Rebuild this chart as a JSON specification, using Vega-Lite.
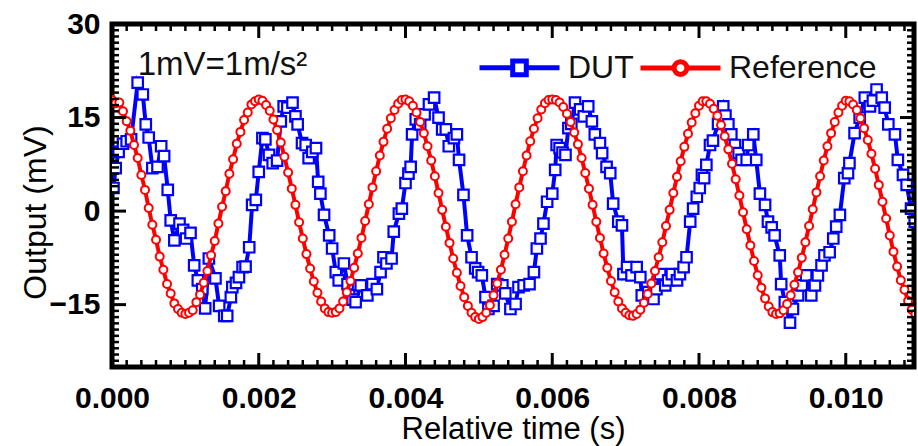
{
"$schema": "https://vega.github.io/schema/vega-lite/v6.json",
"width": 802, "height": 343,
"autosize": {"type": "none"},
"padding": {"left": 112, "top": 24, "right": 4, "bottom": 79},
"background": "white",
"config": {"view": {"stroke": "black", "strokeWidth": 5}, "font": "Liberation Sans"},
"datasets": {
"xmaj": [{"t":0,"b":-25,"tp":30},{"t":0.002,"b":-25,"tp":30},{"t":0.004,"b":-25,"tp":30},{"t":0.006,"b":-25,"tp":30},{"t":0.008,"b":-25,"tp":30},{"t":0.01,"b":-25,"tp":30}],
"xmin": [{"t":0.0002,"b":-25,"tp":30},{"t":0.0004,"b":-25,"tp":30},{"t":0.0006,"b":-25,"tp":30},{"t":0.0008,"b":-25,"tp":30},{"t":0.001,"b":-25,"tp":30},{"t":0.0012,"b":-25,"tp":30},{"t":0.0014,"b":-25,"tp":30},{"t":0.0016,"b":-25,"tp":30},{"t":0.0018,"b":-25,"tp":30},{"t":0.0022,"b":-25,"tp":30},{"t":0.0024,"b":-25,"tp":30},{"t":0.0026,"b":-25,"tp":30},{"t":0.0028,"b":-25,"tp":30},{"t":0.003,"b":-25,"tp":30},{"t":0.0032,"b":-25,"tp":30},{"t":0.0034,"b":-25,"tp":30},{"t":0.0036,"b":-25,"tp":30},{"t":0.0038,"b":-25,"tp":30},{"t":0.0042,"b":-25,"tp":30},{"t":0.0044,"b":-25,"tp":30},{"t":0.0046,"b":-25,"tp":30},{"t":0.0048,"b":-25,"tp":30},{"t":0.005,"b":-25,"tp":30},{"t":0.0052,"b":-25,"tp":30},{"t":0.0054,"b":-25,"tp":30},{"t":0.0056,"b":-25,"tp":30},{"t":0.0058,"b":-25,"tp":30},{"t":0.0062,"b":-25,"tp":30},{"t":0.0064,"b":-25,"tp":30},{"t":0.0066,"b":-25,"tp":30},{"t":0.0068,"b":-25,"tp":30},{"t":0.007,"b":-25,"tp":30},{"t":0.0072,"b":-25,"tp":30},{"t":0.0074,"b":-25,"tp":30},{"t":0.0076,"b":-25,"tp":30},{"t":0.0078,"b":-25,"tp":30},{"t":0.0082,"b":-25,"tp":30},{"t":0.0084,"b":-25,"tp":30},{"t":0.0086,"b":-25,"tp":30},{"t":0.0088,"b":-25,"tp":30},{"t":0.009,"b":-25,"tp":30},{"t":0.0092,"b":-25,"tp":30},{"t":0.0094,"b":-25,"tp":30},{"t":0.0096,"b":-25,"tp":30},{"t":0.0098,"b":-25,"tp":30},{"t":0.0102,"b":-25,"tp":30},{"t":0.0104,"b":-25,"tp":30},{"t":0.0106,"b":-25,"tp":30},{"t":0.0108,"b":-25,"tp":30}],
"ymaj": [{"v":-15,"l":0,"r":0.01093},{"v":0,"l":0,"r":0.01093},{"v":15,"l":0,"r":0.01093}],
"ymin": [{"v":-24,"l":0,"r":0.01093},{"v":-23,"l":0,"r":0.01093},{"v":-22,"l":0,"r":0.01093},{"v":-21,"l":0,"r":0.01093},{"v":-20,"l":0,"r":0.01093},{"v":-19,"l":0,"r":0.01093},{"v":-18,"l":0,"r":0.01093},{"v":-17,"l":0,"r":0.01093},{"v":-16,"l":0,"r":0.01093},{"v":-14,"l":0,"r":0.01093},{"v":-13,"l":0,"r":0.01093},{"v":-12,"l":0,"r":0.01093},{"v":-11,"l":0,"r":0.01093},{"v":-10,"l":0,"r":0.01093},{"v":-9,"l":0,"r":0.01093},{"v":-8,"l":0,"r":0.01093},{"v":-7,"l":0,"r":0.01093},{"v":-6,"l":0,"r":0.01093},{"v":-5,"l":0,"r":0.01093},{"v":-4,"l":0,"r":0.01093},{"v":-3,"l":0,"r":0.01093},{"v":-2,"l":0,"r":0.01093},{"v":-1,"l":0,"r":0.01093},{"v":1,"l":0,"r":0.01093},{"v":2,"l":0,"r":0.01093},{"v":3,"l":0,"r":0.01093},{"v":4,"l":0,"r":0.01093},{"v":5,"l":0,"r":0.01093},{"v":6,"l":0,"r":0.01093},{"v":7,"l":0,"r":0.01093},{"v":8,"l":0,"r":0.01093},{"v":9,"l":0,"r":0.01093},{"v":10,"l":0,"r":0.01093},{"v":11,"l":0,"r":0.01093},{"v":12,"l":0,"r":0.01093},{"v":13,"l":0,"r":0.01093},{"v":14,"l":0,"r":0.01093},{"v":16,"l":0,"r":0.01093},{"v":17,"l":0,"r":0.01093},{"v":18,"l":0,"r":0.01093},{"v":19,"l":0,"r":0.01093},{"v":20,"l":0,"r":0.01093},{"v":21,"l":0,"r":0.01093},{"v":22,"l":0,"r":0.01093},{"v":23,"l":0,"r":0.01093},{"v":24,"l":0,"r":0.01093},{"v":25,"l":0,"r":0.01093},{"v":26,"l":0,"r":0.01093},{"v":27,"l":0,"r":0.01093},{"v":28,"l":0,"r":0.01093},{"v":29,"l":0,"r":0.01093}],
"dut": [
{"s":"DUT","t":0.00002,"v":3.7},{"s":"DUT","t":0.00005,"v":6.9},{"s":"DUT","t":0.00009,"v":9.5},{"s":"DUT","t":0.00015,"v":10.8},{"s":"DUT","t":0.0002,"v":11.2},{"s":"DUT","t":0.00026,"v":11.5},{"s":"DUT","t":0.00035,"v":20.6},{"s":"DUT","t":0.00042,"v":18.7},{"s":"DUT","t":0.00046,"v":13.9},{"s":"DUT","t":0.0005,"v":11.8},{"s":"DUT","t":0.00055,"v":6.9},{"s":"DUT","t":0.00062,"v":7.1},{"s":"DUT","t":0.00067,"v":10.4},{"s":"DUT","t":0.00071,"v":8.8},{"s":"DUT","t":0.00076,"v":3.4},{"s":"DUT","t":0.0008,"v":-1.5},{"s":"DUT","t":0.00085,"v":-4.7},{"s":"DUT","t":0.00092,"v":-2.0},{"s":"DUT","t":0.00097,"v":-3.0},{"s":"DUT","t":0.00101,"v":-4.4},{"s":"DUT","t":0.00107,"v":-3.5},{"s":"DUT","t":0.00112,"v":-8.7},{"s":"DUT","t":0.00117,"v":-11.1},{"s":"DUT","t":0.00123,"v":-12.5},{"s":"DUT","t":0.00127,"v":-15.6},{"s":"DUT","t":0.00132,"v":-7.6},{"s":"DUT","t":0.00141,"v":-10.8},{"s":"DUT","t":0.00146,"v":-15.2},{"s":"DUT","t":0.00153,"v":-16.8},{"s":"DUT","t":0.00157,"v":-16.8},{"s":"DUT","t":0.00162,"v":-13.8},{"s":"DUT","t":0.00164,"v":-12.2},{"s":"DUT","t":0.00169,"v":-11.5},{"s":"DUT","t":0.00173,"v":-10.6},{"s":"DUT","t":0.00178,"v":-9.0},{"s":"DUT","t":0.00182,"v":-8.9},{"s":"DUT","t":0.00187,"v":-5.8},{"s":"DUT","t":0.00191,"v":1.0},{"s":"DUT","t":0.00196,"v":1.8},{"s":"DUT","t":0.002,"v":6.3},{"s":"DUT","t":0.00205,"v":11.7},{"s":"DUT","t":0.00209,"v":11.5},{"s":"DUT","t":0.00214,"v":9.0},{"s":"DUT","t":0.00219,"v":7.7},{"s":"DUT","t":0.00225,"v":8.1},{"s":"DUT","t":0.0023,"v":14.4},{"s":"DUT","t":0.00234,"v":16.8},{"s":"DUT","t":0.00239,"v":16.6},{"s":"DUT","t":0.00246,"v":17.4},{"s":"DUT","t":0.0025,"v":15.2},{"s":"DUT","t":0.00253,"v":13.9},{"s":"DUT","t":0.00259,"v":10.9},{"s":"DUT","t":0.00264,"v":10.6},{"s":"DUT","t":0.00268,"v":8.5},{"s":"DUT","t":0.00273,"v":9.5},{"s":"DUT","t":0.00278,"v":10.1},{"s":"DUT","t":0.00281,"v":4.7},{"s":"DUT","t":0.00284,"v":2.8},{"s":"DUT","t":0.00289,"v":-0.6},{"s":"DUT","t":0.00296,"v":-3.9},{"s":"DUT","t":0.003,"v":-6.0},{"s":"DUT","t":0.00305,"v":-9.8},{"s":"DUT","t":0.00309,"v":-11.1},{"s":"DUT","t":0.00316,"v":-8.4},{"s":"DUT","t":0.00321,"v":-11.7},{"s":"DUT","t":0.00323,"v":-13.5},{"s":"DUT","t":0.00328,"v":-14.2},{"s":"DUT","t":0.00332,"v":-14.6},{"s":"DUT","t":0.00339,"v":-11.9},{"s":"DUT","t":0.00348,"v":-13.5},{"s":"DUT","t":0.00355,"v":-11.7},{"s":"DUT","t":0.00361,"v":-12.5},{"s":"DUT","t":0.00366,"v":-9.8},{"s":"DUT","t":0.0037,"v":-7.4},{"s":"DUT","t":0.00374,"v":-8.4},{"s":"DUT","t":0.00381,"v":-7.6},{"s":"DUT","t":0.00384,"v":-3.3},{"s":"DUT","t":0.00391,"v":-0.4},{"s":"DUT","t":0.00395,"v":0.4},{"s":"DUT","t":0.004,"v":4.5},{"s":"DUT","t":0.00404,"v":6.0},{"s":"DUT","t":0.00407,"v":7.1},{"s":"DUT","t":0.00409,"v":12.3},{"s":"DUT","t":0.00414,"v":14.7},{"s":"DUT","t":0.0042,"v":13.9},{"s":"DUT","t":0.00426,"v":15.5},{"s":"DUT","t":0.00432,"v":17.1},{"s":"DUT","t":0.00439,"v":18.2},{"s":"DUT","t":0.00445,"v":15.0},{"s":"DUT","t":0.0045,"v":13.1},{"s":"DUT","t":0.00455,"v":13.1},{"s":"DUT","t":0.00459,"v":10.4},{"s":"DUT","t":0.00466,"v":11.7},{"s":"DUT","t":0.0047,"v":12.3},{"s":"DUT","t":0.00473,"v":8.2},{"s":"DUT","t":0.00479,"v":2.6},{"s":"DUT","t":0.00484,"v":-3.9},{"s":"DUT","t":0.0049,"v":-7.4},{"s":"DUT","t":0.00495,"v":-9.2},{"s":"DUT","t":0.00499,"v":-9.8},{"s":"DUT","t":0.00504,"v":-10.3},{"s":"DUT","t":0.00509,"v":-13.8},{"s":"DUT","t":0.00513,"v":-15.7},{"s":"DUT","t":0.0052,"v":-15.2},{"s":"DUT","t":0.00525,"v":-11.7},{"s":"DUT","t":0.00532,"v":-11.9},{"s":"DUT","t":0.00536,"v":-13.2},{"s":"DUT","t":0.00543,"v":-15.7},{"s":"DUT","t":0.0055,"v":-14.9},{"s":"DUT","t":0.00554,"v":-12.2},{"s":"DUT","t":0.00561,"v":-11.9},{"s":"DUT","t":0.00569,"v":-11.7},{"s":"DUT","t":0.00575,"v":-9.8},{"s":"DUT","t":0.00579,"v":-6.0},{"s":"DUT","t":0.00584,"v":-4.4},{"s":"DUT","t":0.00588,"v":-2.0},{"s":"DUT","t":0.00593,"v":1.5},{"s":"DUT","t":0.006,"v":2.8},{"s":"DUT","t":0.00604,"v":6.6},{"s":"DUT","t":0.00606,"v":10.6},{"s":"DUT","t":0.0061,"v":10.1},{"s":"DUT","t":0.00614,"v":9.4},{"s":"DUT","t":0.00618,"v":9.0},{"s":"DUT","t":0.00622,"v":13.3},{"s":"DUT","t":0.00626,"v":14.0},{"s":"DUT","t":0.00631,"v":17.4},{"s":"DUT","t":0.00638,"v":16.3},{"s":"DUT","t":0.00643,"v":15.2},{"s":"DUT","t":0.00649,"v":16.8},{"s":"DUT","t":0.00654,"v":14.4},{"s":"DUT","t":0.00658,"v":12.3},{"s":"DUT","t":0.00665,"v":10.9},{"s":"DUT","t":0.00668,"v":9.3},{"s":"DUT","t":0.00674,"v":7.1},{"s":"DUT","t":0.00679,"v":6.1},{"s":"DUT","t":0.00683,"v":1.2},{"s":"DUT","t":0.0069,"v":-1.7},{"s":"DUT","t":0.00695,"v":-2.3},{"s":"DUT","t":0.00697,"v":-10.1},{"s":"DUT","t":0.00702,"v":-9.0},{"s":"DUT","t":0.00708,"v":-10.3},{"s":"DUT","t":0.00715,"v":-9.0},{"s":"DUT","t":0.0072,"v":-10.6},{"s":"DUT","t":0.00722,"v":-13.5},{"s":"DUT","t":0.00731,"v":-13.0},{"s":"DUT","t":0.00738,"v":-14.1},{"s":"DUT","t":0.00742,"v":-12.5},{"s":"DUT","t":0.00747,"v":-10.1},{"s":"DUT","t":0.00754,"v":-11.9},{"s":"DUT","t":0.00758,"v":-11.1},{"s":"DUT","t":0.00763,"v":-10.1},{"s":"DUT","t":0.0077,"v":-11.1},{"s":"DUT","t":0.00774,"v":-10.1},{"s":"DUT","t":0.00779,"v":-9.0},{"s":"DUT","t":0.00783,"v":-7.4},{"s":"DUT","t":0.00788,"v":-1.7},{"s":"DUT","t":0.00792,"v":0.4},{"s":"DUT","t":0.00797,"v":2.3},{"s":"DUT","t":0.00801,"v":3.7},{"s":"DUT","t":0.00804,"v":5.8},{"s":"DUT","t":0.00807,"v":5.3},{"s":"DUT","t":0.0081,"v":7.4},{"s":"DUT","t":0.00815,"v":10.6},{"s":"DUT","t":0.00819,"v":11.3},{"s":"DUT","t":0.00826,"v":14.0},{"s":"DUT","t":0.00833,"v":16.8},{"s":"DUT","t":0.00836,"v":15.3},{"s":"DUT","t":0.0084,"v":13.9},{"s":"DUT","t":0.00844,"v":12.3},{"s":"DUT","t":0.00849,"v":10.6},{"s":"DUT","t":0.00854,"v":9.3},{"s":"DUT","t":0.00858,"v":8.2},{"s":"DUT","t":0.00865,"v":8.2},{"s":"DUT","t":0.00867,"v":10.6},{"s":"DUT","t":0.00874,"v":12.3},{"s":"DUT","t":0.00878,"v":8.2},{"s":"DUT","t":0.00883,"v":2.8},{"s":"DUT","t":0.0089,"v":1.0},{"s":"DUT","t":0.00894,"v":-1.7},{"s":"DUT","t":0.00899,"v":-2.6},{"s":"DUT","t":0.00903,"v":-3.9},{"s":"DUT","t":0.0091,"v":-7.1},{"s":"DUT","t":0.00912,"v":-11.7},{"s":"DUT","t":0.00917,"v":-14.6},{"s":"DUT","t":0.00924,"v":-17.9},{"s":"DUT","t":0.00928,"v":-15.7},{"s":"DUT","t":0.00935,"v":-13.5},{"s":"DUT","t":0.0094,"v":-11.9},{"s":"DUT","t":0.00946,"v":-10.3},{"s":"DUT","t":0.00953,"v":-13.5},{"s":"DUT","t":0.00958,"v":-11.9},{"s":"DUT","t":0.00962,"v":-10.3},{"s":"DUT","t":0.00967,"v":-8.7},{"s":"DUT","t":0.00971,"v":-7.1},{"s":"DUT","t":0.00978,"v":-6.6},{"s":"DUT","t":0.00983,"v":-4.4},{"s":"DUT","t":0.00987,"v":-2.5},{"s":"DUT","t":0.00992,"v":-0.6},{"s":"DUT","t":0.00998,"v":5.3},{"s":"DUT","t":0.01003,"v":6.1},{"s":"DUT","t":0.01005,"v":7.7},{"s":"DUT","t":0.01012,"v":12.5},{"s":"DUT","t":0.01019,"v":15.0},{"s":"DUT","t":0.01026,"v":18.2},{"s":"DUT","t":0.01033,"v":16.8},{"s":"DUT","t":0.01037,"v":17.7},{"s":"DUT","t":0.01042,"v":19.5},{"s":"DUT","t":0.01049,"v":18.2},{"s":"DUT","t":0.01053,"v":16.6},{"s":"DUT","t":0.01058,"v":13.9},{"s":"DUT","t":0.01067,"v":12.3},{"s":"DUT","t":0.01071,"v":8.2},{"s":"DUT","t":0.01078,"v":5.8},{"s":"DUT","t":0.01083,"v":4.2},{"s":"DUT","t":0.01089,"v":0.4},{"s":"DUT","t":0.01094,"v":-1.7}
],
"ref": [
{"s":"Reference","t":0,"v":17.8},{"s":"Reference","t":0.00005,"v":17.3},{"s":"Reference","t":0.0001,"v":17.4},{"s":"Reference","t":0.00015,"v":16.0},{"s":"Reference","t":0.0002,"v":14.4},{"s":"Reference","t":0.00025,"v":12.9},{"s":"Reference","t":0.0003,"v":10.6},{"s":"Reference","t":0.00035,"v":8.5},{"s":"Reference","t":0.0004,"v":5.8},{"s":"Reference","t":0.00045,"v":3.4},{"s":"Reference","t":0.0005,"v":0.5},{"s":"Reference","t":0.00055,"v":-2.2},{"s":"Reference","t":0.0006,"v":-4.6},{"s":"Reference","t":0.00065,"v":-7.3},{"s":"Reference","t":0.0007,"v":-9.4},{"s":"Reference","t":0.00075,"v":-11.7},{"s":"Reference","t":0.0008,"v":-13.2},{"s":"Reference","t":0.00085,"v":-14.8},{"s":"Reference","t":0.0009,"v":-15.7},{"s":"Reference","t":0.00095,"v":-16.3},{"s":"Reference","t":0.001,"v":-16.5},{"s":"Reference","t":0.00105,"v":-16.3},{"s":"Reference","t":0.0011,"v":-15.9},{"s":"Reference","t":0.00115,"v":-14.6},{"s":"Reference","t":0.0012,"v":-13.4},{"s":"Reference","t":0.00125,"v":-11.5},{"s":"Reference","t":0.0013,"v":-9.6},{"s":"Reference","t":0.00135,"v":-7.1},{"s":"Reference","t":0.0014,"v":-4.8},{"s":"Reference","t":0.00145,"v":-2.0},{"s":"Reference","t":0.0015,"v":0.7},{"s":"Reference","t":0.00155,"v":3.2},{"s":"Reference","t":0.0016,"v":6.0},{"s":"Reference","t":0.00165,"v":8.3},{"s":"Reference","t":0.0017,"v":10.8},{"s":"Reference","t":0.00175,"v":12.7},{"s":"Reference","t":0.0018,"v":14.6},{"s":"Reference","t":0.00185,"v":15.8},{"s":"Reference","t":0.0019,"v":17.1},{"s":"Reference","t":0.00195,"v":17.6},
{"s":"Reference","t":0.002,"v":17.9},{"s":"Reference","t":0.00205,"v":17.7},{"s":"Reference","t":0.0021,"v":17.0},{"s":"Reference","t":0.00215,"v":16.1},{"s":"Reference","t":0.0022,"v":14.7},{"s":"Reference","t":0.00225,"v":13.0},{"s":"Reference","t":0.0023,"v":11.0},{"s":"Reference","t":0.00235,"v":8.7},{"s":"Reference","t":0.0024,"v":6.2},{"s":"Reference","t":0.00245,"v":3.6},{"s":"Reference","t":0.0025,"v":1.0},{"s":"Reference","t":0.00255,"v":-1.8},{"s":"Reference","t":0.0026,"v":-4.4},{"s":"Reference","t":0.00265,"v":-6.9},{"s":"Reference","t":0.0027,"v":-9.2},{"s":"Reference","t":0.00275,"v":-11.3},{"s":"Reference","t":0.0028,"v":-13.1},{"s":"Reference","t":0.00285,"v":-14.5},{"s":"Reference","t":0.0029,"v":-15.6},{"s":"Reference","t":0.00295,"v":-16.2},{"s":"Reference","t":0.003,"v":-16.3},{"s":"Reference","t":0.00305,"v":-16.2},{"s":"Reference","t":0.0031,"v":-15.6},{"s":"Reference","t":0.00315,"v":-14.5},{"s":"Reference","t":0.0032,"v":-13.0},{"s":"Reference","t":0.00325,"v":-11.2},{"s":"Reference","t":0.0033,"v":-9.1},{"s":"Reference","t":0.00335,"v":-6.8},{"s":"Reference","t":0.0034,"v":-4.3},{"s":"Reference","t":0.00345,"v":-1.6},{"s":"Reference","t":0.0035,"v":1.1},{"s":"Reference","t":0.00355,"v":3.8},{"s":"Reference","t":0.0036,"v":6.4},{"s":"Reference","t":0.00365,"v":8.9},{"s":"Reference","t":0.0037,"v":11.1},{"s":"Reference","t":0.00375,"v":13.2},{"s":"Reference","t":0.0038,"v":14.9},{"s":"Reference","t":0.00385,"v":16.2},{"s":"Reference","t":0.0039,"v":17.2},{"s":"Reference","t":0.00395,"v":17.8},
{"s":"Reference","t":0.004,"v":17.9},{"s":"Reference","t":0.00405,"v":17.6},{"s":"Reference","t":0.0041,"v":16.9},{"s":"Reference","t":0.00415,"v":15.8},{"s":"Reference","t":0.0042,"v":14.3},{"s":"Reference","t":0.00425,"v":12.5},{"s":"Reference","t":0.0043,"v":10.4},{"s":"Reference","t":0.00435,"v":8.1},{"s":"Reference","t":0.0044,"v":5.6},{"s":"Reference","t":0.00445,"v":2.9},{"s":"Reference","t":0.0045,"v":0.2},{"s":"Reference","t":0.00455,"v":-2.5},{"s":"Reference","t":0.0046,"v":-5.1},{"s":"Reference","t":0.00465,"v":-7.6},{"s":"Reference","t":0.0047,"v":-9.9},{"s":"Reference","t":0.00475,"v":-12.0},{"s":"Reference","t":0.0048,"v":-13.8},{"s":"Reference","t":0.00485,"v":-15.2},{"s":"Reference","t":0.0049,"v":-16.3},{"s":"Reference","t":0.00495,"v":-17.0},{"s":"Reference","t":0.005,"v":-17.3},{"s":"Reference","t":0.00505,"v":-17.0},{"s":"Reference","t":0.0051,"v":-16.3},{"s":"Reference","t":0.00515,"v":-15.1},{"s":"Reference","t":0.0052,"v":-13.5},{"s":"Reference","t":0.00525,"v":-11.6},{"s":"Reference","t":0.0053,"v":-9.4},{"s":"Reference","t":0.00535,"v":-7.0},{"s":"Reference","t":0.0054,"v":-4.4},{"s":"Reference","t":0.00545,"v":-1.7},{"s":"Reference","t":0.0055,"v":1.1},{"s":"Reference","t":0.00555,"v":3.8},{"s":"Reference","t":0.0056,"v":6.4},{"s":"Reference","t":0.00565,"v":8.9},{"s":"Reference","t":0.0057,"v":11.2},{"s":"Reference","t":0.00575,"v":13.2},{"s":"Reference","t":0.0058,"v":14.9},{"s":"Reference","t":0.00585,"v":16.3},{"s":"Reference","t":0.0059,"v":17.3},{"s":"Reference","t":0.00595,"v":17.8},
{"s":"Reference","t":0.006,"v":17.9},{"s":"Reference","t":0.00605,"v":17.8},{"s":"Reference","t":0.0061,"v":17.4},{"s":"Reference","t":0.00615,"v":16.7},{"s":"Reference","t":0.0062,"v":15.6},{"s":"Reference","t":0.00625,"v":14.3},{"s":"Reference","t":0.0063,"v":12.6},{"s":"Reference","t":0.00635,"v":10.7},{"s":"Reference","t":0.0064,"v":8.5},{"s":"Reference","t":0.00645,"v":6.1},{"s":"Reference","t":0.0065,"v":3.6},{"s":"Reference","t":0.00655,"v":1.0},{"s":"Reference","t":0.0066,"v":-1.7},{"s":"Reference","t":0.00665,"v":-4.3},{"s":"Reference","t":0.0067,"v":-6.8},{"s":"Reference","t":0.00675,"v":-9.1},{"s":"Reference","t":0.0068,"v":-11.2},{"s":"Reference","t":0.00685,"v":-13.0},{"s":"Reference","t":0.0069,"v":-14.5},{"s":"Reference","t":0.00695,"v":-15.6},{"s":"Reference","t":0.007,"v":-16.3},{"s":"Reference","t":0.00705,"v":-16.7},{"s":"Reference","t":0.0071,"v":-16.8},{"s":"Reference","t":0.00715,"v":-16.5},{"s":"Reference","t":0.0072,"v":-15.8},{"s":"Reference","t":0.00725,"v":-14.7},{"s":"Reference","t":0.0073,"v":-13.3},{"s":"Reference","t":0.00735,"v":-11.6},{"s":"Reference","t":0.0074,"v":-9.6},{"s":"Reference","t":0.00745,"v":-7.4},{"s":"Reference","t":0.0075,"v":-5.0},{"s":"Reference","t":0.00755,"v":-2.4},{"s":"Reference","t":0.0076,"v":0.2},{"s":"Reference","t":0.00765,"v":2.9},{"s":"Reference","t":0.0077,"v":5.5},{"s":"Reference","t":0.00775,"v":8.0},{"s":"Reference","t":0.0078,"v":10.3},{"s":"Reference","t":0.00785,"v":12.4},{"s":"Reference","t":0.0079,"v":14.2},{"s":"Reference","t":0.00795,"v":15.7},
{"s":"Reference","t":0.008,"v":16.9},{"s":"Reference","t":0.00805,"v":17.6},{"s":"Reference","t":0.0081,"v":17.6},{"s":"Reference","t":0.00815,"v":17.2},{"s":"Reference","t":0.0082,"v":16.4},{"s":"Reference","t":0.00825,"v":15.3},{"s":"Reference","t":0.0083,"v":13.8},{"s":"Reference","t":0.00835,"v":12.0},{"s":"Reference","t":0.0084,"v":9.9},{"s":"Reference","t":0.00845,"v":7.6},{"s":"Reference","t":0.0085,"v":5.1},{"s":"Reference","t":0.00855,"v":2.5},{"s":"Reference","t":0.0086,"v":-0.2},{"s":"Reference","t":0.00865,"v":-2.9},{"s":"Reference","t":0.0087,"v":-5.5},{"s":"Reference","t":0.00875,"v":-8.0},{"s":"Reference","t":0.0088,"v":-10.3},{"s":"Reference","t":0.00885,"v":-12.3},{"s":"Reference","t":0.0089,"v":-14.0},{"s":"Reference","t":0.00895,"v":-15.3},{"s":"Reference","t":0.009,"v":-16.2},{"s":"Reference","t":0.00905,"v":-16.5},{"s":"Reference","t":0.0091,"v":-16.4},{"s":"Reference","t":0.00915,"v":-15.9},{"s":"Reference","t":0.0092,"v":-14.9},{"s":"Reference","t":0.00925,"v":-13.5},{"s":"Reference","t":0.0093,"v":-11.8},{"s":"Reference","t":0.00935,"v":-9.8},{"s":"Reference","t":0.0094,"v":-7.5},{"s":"Reference","t":0.00945,"v":-5.0},{"s":"Reference","t":0.0095,"v":-2.4},{"s":"Reference","t":0.00955,"v":0.3},{"s":"Reference","t":0.0096,"v":3.0},{"s":"Reference","t":0.00965,"v":5.6},{"s":"Reference","t":0.0097,"v":8.1},{"s":"Reference","t":0.00975,"v":10.4},{"s":"Reference","t":0.0098,"v":12.5},{"s":"Reference","t":0.00985,"v":14.3},{"s":"Reference","t":0.0099,"v":15.8},{"s":"Reference","t":0.00995,"v":16.9},
{"s":"Reference","t":0.01,"v":17.7},{"s":"Reference","t":0.01005,"v":17.6},{"s":"Reference","t":0.0101,"v":17.1},{"s":"Reference","t":0.01015,"v":16.2},{"s":"Reference","t":0.0102,"v":14.9},{"s":"Reference","t":0.01025,"v":13.3},{"s":"Reference","t":0.0103,"v":11.4},{"s":"Reference","t":0.01035,"v":9.2},{"s":"Reference","t":0.0104,"v":6.8},{"s":"Reference","t":0.01045,"v":4.2},{"s":"Reference","t":0.0105,"v":1.5},{"s":"Reference","t":0.01055,"v":-1.2},{"s":"Reference","t":0.0106,"v":-3.9},{"s":"Reference","t":0.01065,"v":-6.5},{"s":"Reference","t":0.0107,"v":-8.9},{"s":"Reference","t":0.01075,"v":-11.1},{"s":"Reference","t":0.0108,"v":-12.6},{"s":"Reference","t":0.01085,"v":-14.4},{"s":"Reference","t":0.0109,"v":-15.8},{"s":"Reference","t":0.01095,"v":-16.5}
]
},
"layer": [
{
"data": {"name": "dut"},
"mark": {"type": "line", "strokeWidth": 4, "clip": true},
"encoding": {
"x": {"field": "t", "type": "quantitative", "scale": {"domain": [0, 0.01093], "nice": false, "zero": false},
 "axis": {"orient": "bottom", "values": [0, 0.002, 0.004, 0.006, 0.008, 0.01], "format": ".3f", "domain": false, "ticks": false, "grid": false, "labelFont": "Liberation Sans", "labelFontWeight": "bold", "labelFontSize": 30, "labelColor": "black", "labelPadding": 16, "labelFlush": false, "labelOverlap": false, "title": "Relative time (s)", "titleFont": "Liberation Sans", "titleFontSize": 31, "titleFontWeight": "normal", "titleColor": "black", "titlePadding": 1}},
"y": {"field": "v", "type": "quantitative", "scale": {"domain": [-25, 30], "nice": false, "zero": false},
 "axis": {"orient": "left", "values": [-15, 0, 15, 30], "domain": false, "ticks": false, "grid": false, "labelFont": "Liberation Sans", "labelFontWeight": "bold", "labelFontSize": 30, "labelColor": "black", "labelPadding": 12, "labelFlush": false, "labelOverlap": false, "title": "Output (mV)", "titleFont": "Liberation Sans", "titleFontSize": 32, "titleFontWeight": "normal", "titleColor": "black", "titlePadding": -3, "titleY": 188}},
"stroke": {"field": "s", "type": "nominal", "scale": {"domain": ["DUT", "Reference"], "range": ["#0000ff", "#ff0000"]},
 "legend": {"title": null, "orient": "none", "legendX": 365, "legendY": 1, "direction": "horizontal", "columns": 2, "padding": 0, "labelFont": "Liberation Sans", "labelFontSize": 32, "labelColor": "#111111", "labelOffset": 6, "columnPadding": -4, "symbolSize": 6400, "symbolStrokeWidth": 5, "symbolOpacity": 1,
  "encode": {"symbols": {"update": {"shape": {"signal": "datum.value === 'DUT' ? 'M-1,0H-0.17M0.17,0H1M-0.17,-0.17H0.17V0.17H-0.17Z' : 'M-1,0H-0.16M0.16,0H1M-0.16,0A0.16,0.16 0 1,1 0.16,0A0.16,0.16 0 1,1 -0.16,0Z'"}, "fill": {"value": "white"}, "strokeWidth": {"value": 5}, "size": {"value": 6400}, "opacity": {"value": 1}}}}}}
}
},
{
"data": {"name": "dut"},
"mark": {"type": "point", "shape": "square", "filled": false, "fill": "white", "size": 110, "strokeWidth": 2.2, "opacity": 1, "clip": true},
"encoding": {
"x": {"field": "t", "type": "quantitative"},
"y": {"field": "v", "type": "quantitative"},
"stroke": {"field": "s", "type": "nominal"}
}
},
{
"data": {"name": "ref"},
"mark": {"type": "line", "strokeWidth": 4, "clip": true},
"encoding": {
"x": {"field": "t", "type": "quantitative"},
"y": {"field": "v", "type": "quantitative"},
"stroke": {"field": "s", "type": "nominal"}
}
},
{
"data": {"name": "ref"},
"mark": {"type": "point", "shape": "circle", "filled": false, "fill": "white", "size": 64, "strokeWidth": 2, "opacity": 1, "clip": true},
"encoding": {
"x": {"field": "t", "type": "quantitative"},
"y": {"field": "v", "type": "quantitative"},
"stroke": {"field": "s", "type": "nominal"}
}
},
{
"data": {"values": [{"t": 0.00035, "v": 23.5, "label": "1mV=1m/s²"}]},
"mark": {"type": "text", "align": "left", "baseline": "middle", "font": "Liberation Sans", "fontSize": 33, "color": "#111111"},
"encoding": {
"x": {"field": "t", "type": "quantitative"},
"y": {"field": "v", "type": "quantitative"},
"text": {"field": "label"}
}
},
{"data": {"name": "xmaj"}, "mark": {"type": "point", "shape": "M0,0V-1", "filled": false, "color": "black", "strokeWidth": 3, "size": 784, "opacity": 1},
 "encoding": {"x": {"field": "t", "type": "quantitative"}, "y": {"field": "b", "type": "quantitative"}}},
{"data": {"name": "xmaj"}, "mark": {"type": "point", "shape": "M0,0V1", "filled": false, "color": "black", "strokeWidth": 3, "size": 784, "opacity": 1},
 "encoding": {"x": {"field": "t", "type": "quantitative"}, "y": {"field": "tp", "type": "quantitative"}}},
{"data": {"name": "xmin"}, "mark": {"type": "point", "shape": "M0,0V-1", "filled": false, "color": "black", "strokeWidth": 2.5, "size": 196, "opacity": 1},
 "encoding": {"x": {"field": "t", "type": "quantitative"}, "y": {"field": "b", "type": "quantitative"}}},
{"data": {"name": "xmin"}, "mark": {"type": "point", "shape": "M0,0V1", "filled": false, "color": "black", "strokeWidth": 2.5, "size": 196, "opacity": 1},
 "encoding": {"x": {"field": "t", "type": "quantitative"}, "y": {"field": "tp", "type": "quantitative"}}},
{"data": {"name": "ymaj"}, "mark": {"type": "point", "shape": "M0,0H1", "filled": false, "color": "black", "strokeWidth": 3, "size": 784, "opacity": 1},
 "encoding": {"y": {"field": "v", "type": "quantitative"}, "x": {"field": "l", "type": "quantitative"}}},
{"data": {"name": "ymaj"}, "mark": {"type": "point", "shape": "M0,0H-1", "filled": false, "color": "black", "strokeWidth": 3, "size": 784, "opacity": 1},
 "encoding": {"y": {"field": "v", "type": "quantitative"}, "x": {"field": "r", "type": "quantitative"}}},
{"data": {"name": "ymin"}, "mark": {"type": "point", "shape": "M0,0H1", "filled": false, "color": "black", "strokeWidth": 2.5, "size": 196, "opacity": 1},
 "encoding": {"y": {"field": "v", "type": "quantitative"}, "x": {"field": "l", "type": "quantitative"}}},
{"data": {"name": "ymin"}, "mark": {"type": "point", "shape": "M0,0H-1", "filled": false, "color": "black", "strokeWidth": 2.5, "size": 196, "opacity": 1},
 "encoding": {"y": {"field": "v", "type": "quantitative"}, "x": {"field": "r", "type": "quantitative"}}}
]
}
